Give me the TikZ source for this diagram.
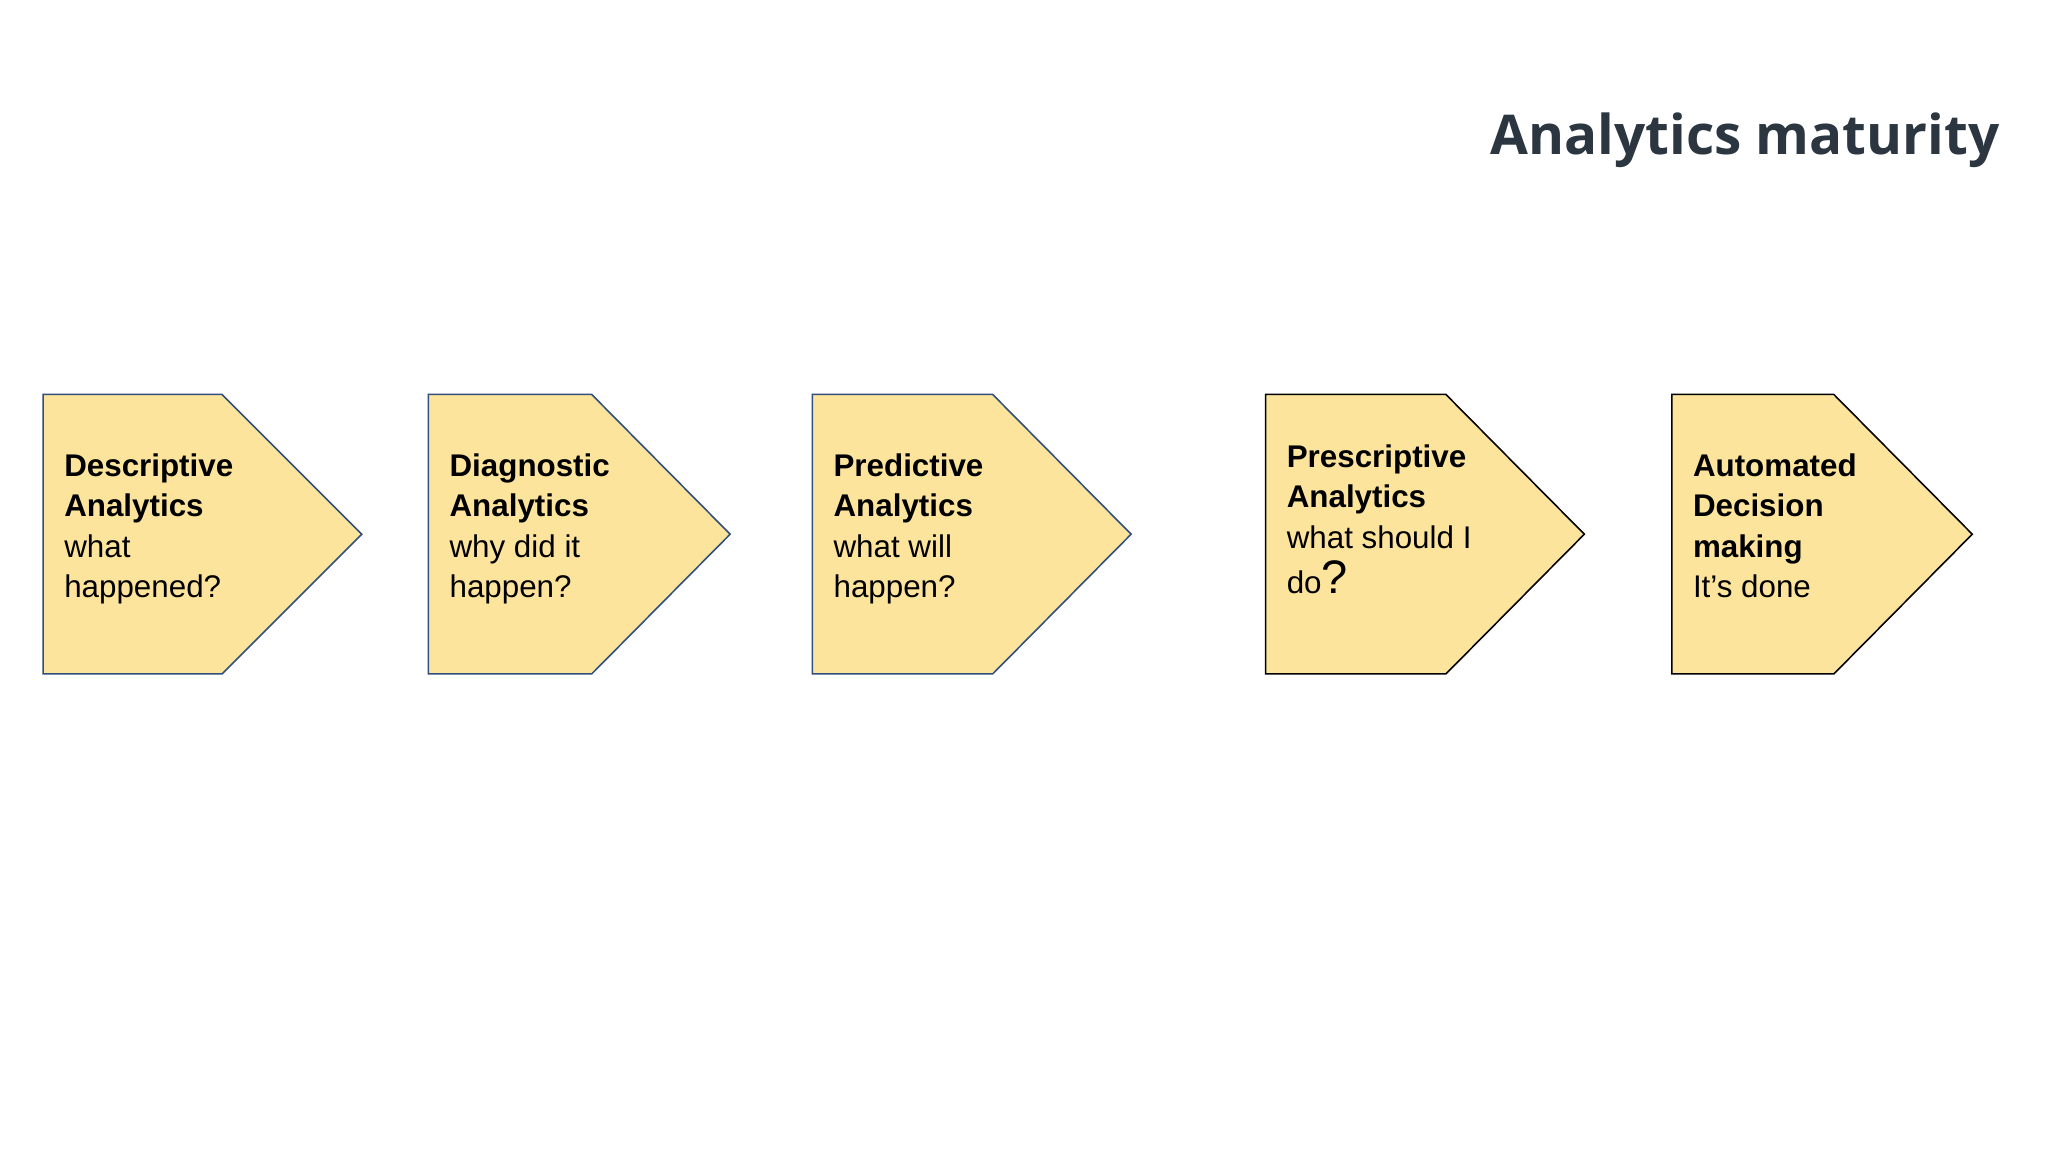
\documentclass[tikz,border=0pt]{standalone}
\usepackage{fontspec}
\setmainfont{Liberation Sans}
\newfontfamily\titlefont{Open Sans}
\definecolor{boxfill}{HTML}{FDE49C}
\definecolor{blueedge}{HTML}{2F4F7F}
\definecolor{titlecol}{HTML}{2B3640}
\tikzset{
  arrowbox/.style={fill=boxfill, line width=1.2pt, line join=miter},
  boxtext/.style={anchor=north west, align=left, inner sep=0pt, font=\fontsize{24}{31}\selectfont, text=black}
}
\begin{document}
\begin{tikzpicture}[x=1pt,y=-1pt]
\useasboundingbox[fill=white] (0,0) rectangle (1568,882);
\node[anchor=east, inner sep=0pt, text=titlecol, font=\titlefont\bfseries\fontsize{42}{50}\selectfont] (title) at (1531,107) {Analytics maturity};
% boxes
\draw[arrowbox, draw=blueedge] (33,302) -- (170,302) -- (277,409) -- (170,516) -- (33,516) -- cycle;
\draw[arrowbox, draw=blueedge] (328,302) -- (453,302) -- (559,409) -- (453,516) -- (328,516) -- cycle;
\draw[arrowbox, draw=blueedge] (622,302) -- (760,302) -- (866,409) -- (760,516) -- (622,516) -- cycle;
\draw[arrowbox, draw=black] (969,302) -- (1107,302) -- (1213,409) -- (1107,516) -- (969,516) -- cycle;
\draw[arrowbox, draw=black] (1280,302) -- (1404,302) -- (1510,409) -- (1404,516) -- (1280,516) -- cycle;
% texts
\node[boxtext] (t1) at (49,347) {\textbf{Descriptive}\\\textbf{Analytics}\\what\\happened?};
\node[boxtext] (t2) at (344,347) {\textbf{Diagnostic}\\\textbf{Analytics}\\why did it\\happen?};
\node[boxtext] (t3) at (638,347) {\textbf{Predictive}\\\textbf{Analytics}\\what will\\happen?};
\node[boxtext] (t4) at (985,340) {\textbf{Prescriptive}\\\textbf{Analytics}\\what should I\\[4pt]do{\fontsize{36}{36}\selectfont ?}};
\node[boxtext] (t5) at (1296,347) {\textbf{Automated}\\\textbf{Decision}\\\textbf{making}\\It's done};
\end{tikzpicture}
\end{document}
